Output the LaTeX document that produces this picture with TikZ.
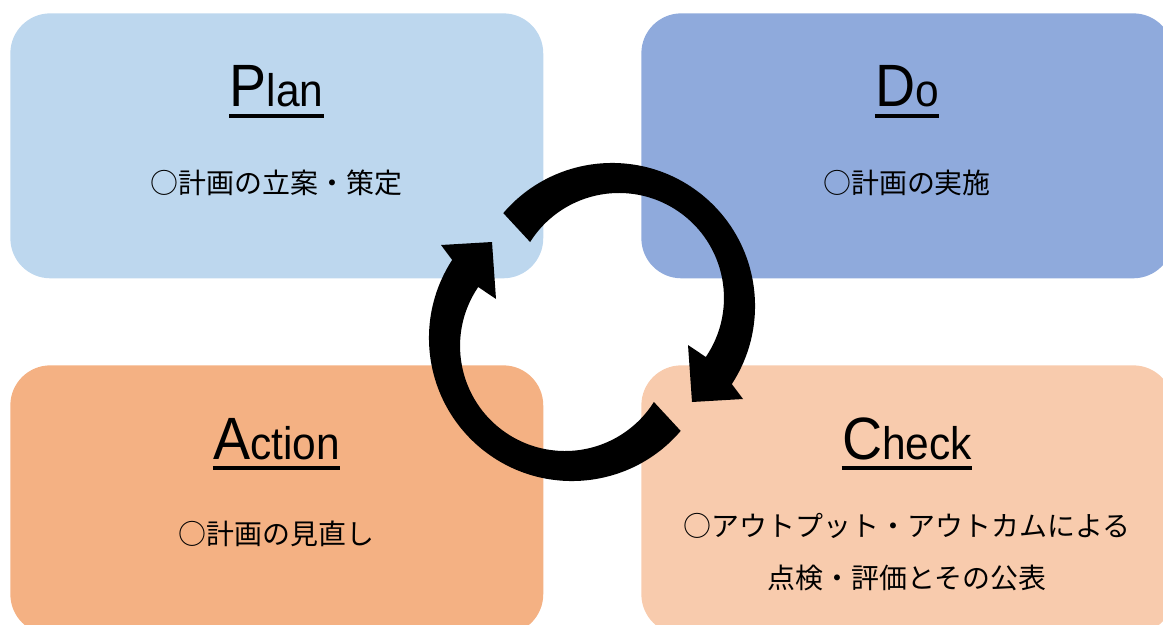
\documentclass[tikz,border=0pt]{standalone}
\usepackage{fontspec}
\setmainfont{Liberation Sans}
\newfontfamily\jpfont{Noto Sans CJK JP}
\newfontfamily\titlefont[FakeStretch=0.93]{Liberation Sans}
\definecolor{planblue}{HTML}{BDD7EE}
\definecolor{doblue}{HTML}{8FAADC}
\definecolor{actorange}{HTML}{F4B183}
\definecolor{checkpeach}{HTML}{F8CBAD}
\newcommand{\bigfirst}[2]{{\fontsize{34}{35}\selectfont #1}{\fontsize{26}{27}\selectfont #2}}

\begin{document}
\begin{tikzpicture}[x=0.02cm,y=-0.02cm,
  box/.style={rounded corners=0.8cm,anchor=north west,inner sep=0pt},
  title/.style={anchor=base,inner sep=0pt,font=\titlefont},
  note/.style={anchor=base,inner sep=0pt,font=\jpfont\fontsize{15.9}{16}\selectfont},
  uline/.style={line width=0.08cm}]
  \useasboundingbox (0,0) rectangle (1163,625);
  \clip (0,0) rectangle (1163,625);
  % the four boxes
  \node (plan) [box,fill=planblue,minimum width=10.66cm,minimum height=5.3cm] at (10,13) {};
  \node (do) [box,fill=doblue,minimum width=10.64cm,minimum height=5.3cm] at (641,13) {};
  \node (action) [box,fill=actorange,minimum width=10.66cm,minimum height=5.38cm] at (10,365) {};
  \node (check) [box,fill=checkpeach,minimum width=10.64cm,minimum height=5.38cm] at (641,365) {};
  % titles
  \node (plantitle) [title] at (276.5,107) {\bigfirst{P}{lan}};
  \node (dotitle) [title] at (907,107) {\bigfirst{D}{o}};
  \node (actiontitle) [title] at (276.5,459) {\bigfirst{A}{ction}};
  \node (checktitle) [title] at (907,459) {\bigfirst{C}{heck}};
  \foreach \t in {plantitle,dotitle,actiontitle,checktitle}
    \draw[uline] ([yshift=-0.18cm]\t.base west) -- ([yshift=-0.18cm]\t.base east);
  % texts
  \node (plantext) [note] at (276.5,194) {○計画の立案・策定};
  \node (dotext) [note] at (907,194) {○計画の実施};
  \node (actiontext) [note] at (276.5,544) {○計画の見直し};
  \node (checktext1) [note] at (907,536) {○アウトプット・アウトカムによる};
  \node (checktext2) [note] at (907,588) {点検・評価とその公表};
  % the cycle arrows
  \foreach \r in {0,180}
    \fill[rotate around={\r:(592,322)}] (503.3,213.1)
      arc[start angle=-139.5,end angle=33.1,radius=143]
      -- (743,399) -- (692,402) -- (688,345) -- (705.8,357)
      arc[start angle=34.2,end angle=-147.8,radius=105] -- cycle;
\end{tikzpicture}
\end{document}
